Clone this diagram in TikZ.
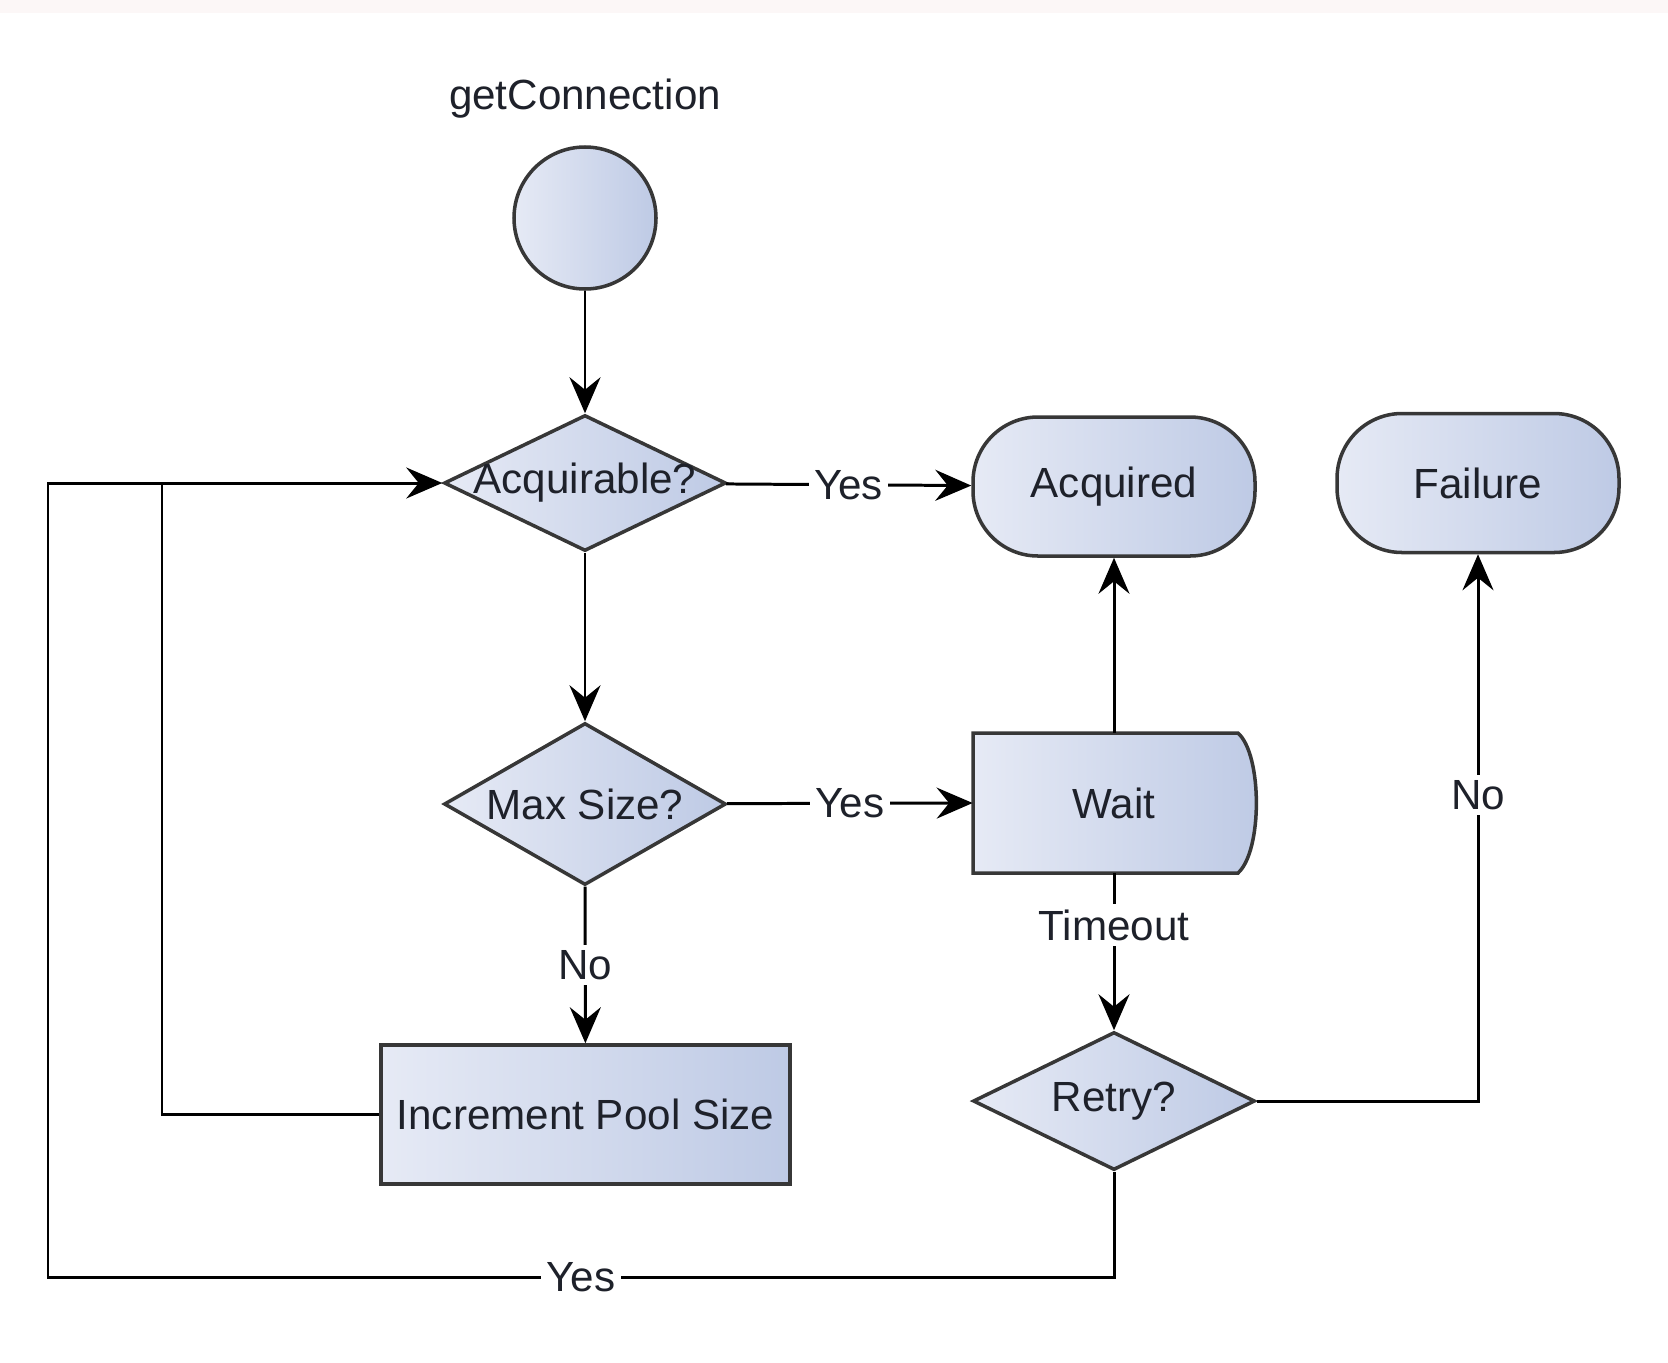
\documentclass[tikz,border=0pt]{standalone}
\usepackage{fontspec}
\setmainfont{Liberation Sans}
\usetikzlibrary{shapes.geometric,arrows.meta}
\definecolor{boxleft}{RGB}{230,234,245}
\definecolor{boxright}{RGB}{190,202,229}
\definecolor{edgegray}{RGB}{55,55,55}
\definecolor{textgray}{RGB}{30,33,42}
\definecolor{topband}{RGB}{252,247,247}
\begin{document}
\begin{tikzpicture}[
	font=\fontsize{24}{28}\selectfont, text=textgray,
	shapefill/.style={left color=boxleft, right color=boxright, draw=edgegray, line width=2pt},
	decision/.style={shapefill, diamond, inner sep=0pt, minimum width=5.64cm, minimum height=#1},
	terminal/.style={shapefill, rectangle, rounded corners=1.3cm, minimum width=5.64cm, minimum height=2.78cm},
	process/.style={shapefill, rectangle, minimum width=#1, minimum height=2.78cm},
	flow/.style={line width=1.7pt, draw=black, -{Stealth[length=0.72cm,width=0.62cm,inset=0.25cm]}},
	link/.style={line width=1.7pt, draw=black},
	lbl/.style={fill=white, inner sep=3pt}
	]
	\useasboundingbox (0,0) rectangle (33.36,-27.24);
	\fill[topband] (0,0) rectangle (33.36,-0.26);
	\node (title) at (11.7,-1.98) {getConnection};
	\node[shapefill, circle, minimum size=2.84cm] (start) at (11.7,-4.36) {};
	\node[decision=2.72cm] (acq) at (11.7,-9.66) {\makebox[0pt]{Acquirable?}};
	\node[terminal] (acquired) at (22.28,-9.73) {Acquired};
	\node[terminal] (failure) at (29.56,-9.66) {Failure};
	\node[decision=3.24cm] (maxsize) at (11.7,-16.08) {\makebox[0pt]{Max Size?}};
	\path[shapefill] (19.46,-14.66) -- (24.76,-14.66) .. controls (25.25,-15.1) and (25.25,-17.02) .. (24.76,-17.46) -- (19.46,-17.46) -- cycle;
	\node[minimum width=5.64cm, minimum height=2.8cm] (wait) at (22.28,-16.06) {Wait};
	\node[process=8.18cm] (incr) at (11.71,-22.29) {Increment Pool Size};
	\node[decision=2.76cm] (retry) at (22.28,-22.02) {\makebox[0pt]{Retry?}};
	\coordinate (lowleft) at (0.96,-25.54);
	\coordinate (inner) at (3.24,-9.66);
	\draw[flow] (start) to (acq);
	\draw[flow] (acq) to node[lbl] {Yes} (acquired);
	\draw[flow] (acq) to (maxsize);
	\draw[flow] (maxsize) to node[lbl] {Yes} (wait.west);
	\draw[flow] (maxsize) to node[lbl] {No} (incr);
	\draw[flow] (wait.north) to (acquired.south);
	\draw[flow] (wait.south) to node[lbl, pos=0.33] {Timeout} (retry);
	\draw[flow] (retry.east) -| node[lbl, pos=0.78] {No} (failure.south);
	\draw[flow] (retry.south) |- node[lbl, pos=0.75] {Yes} (lowleft) -- (lowleft |- acq.west) -- (acq.west);
	\draw[link] (incr.west) -| (inner);
\end{tikzpicture}
\end{document}
